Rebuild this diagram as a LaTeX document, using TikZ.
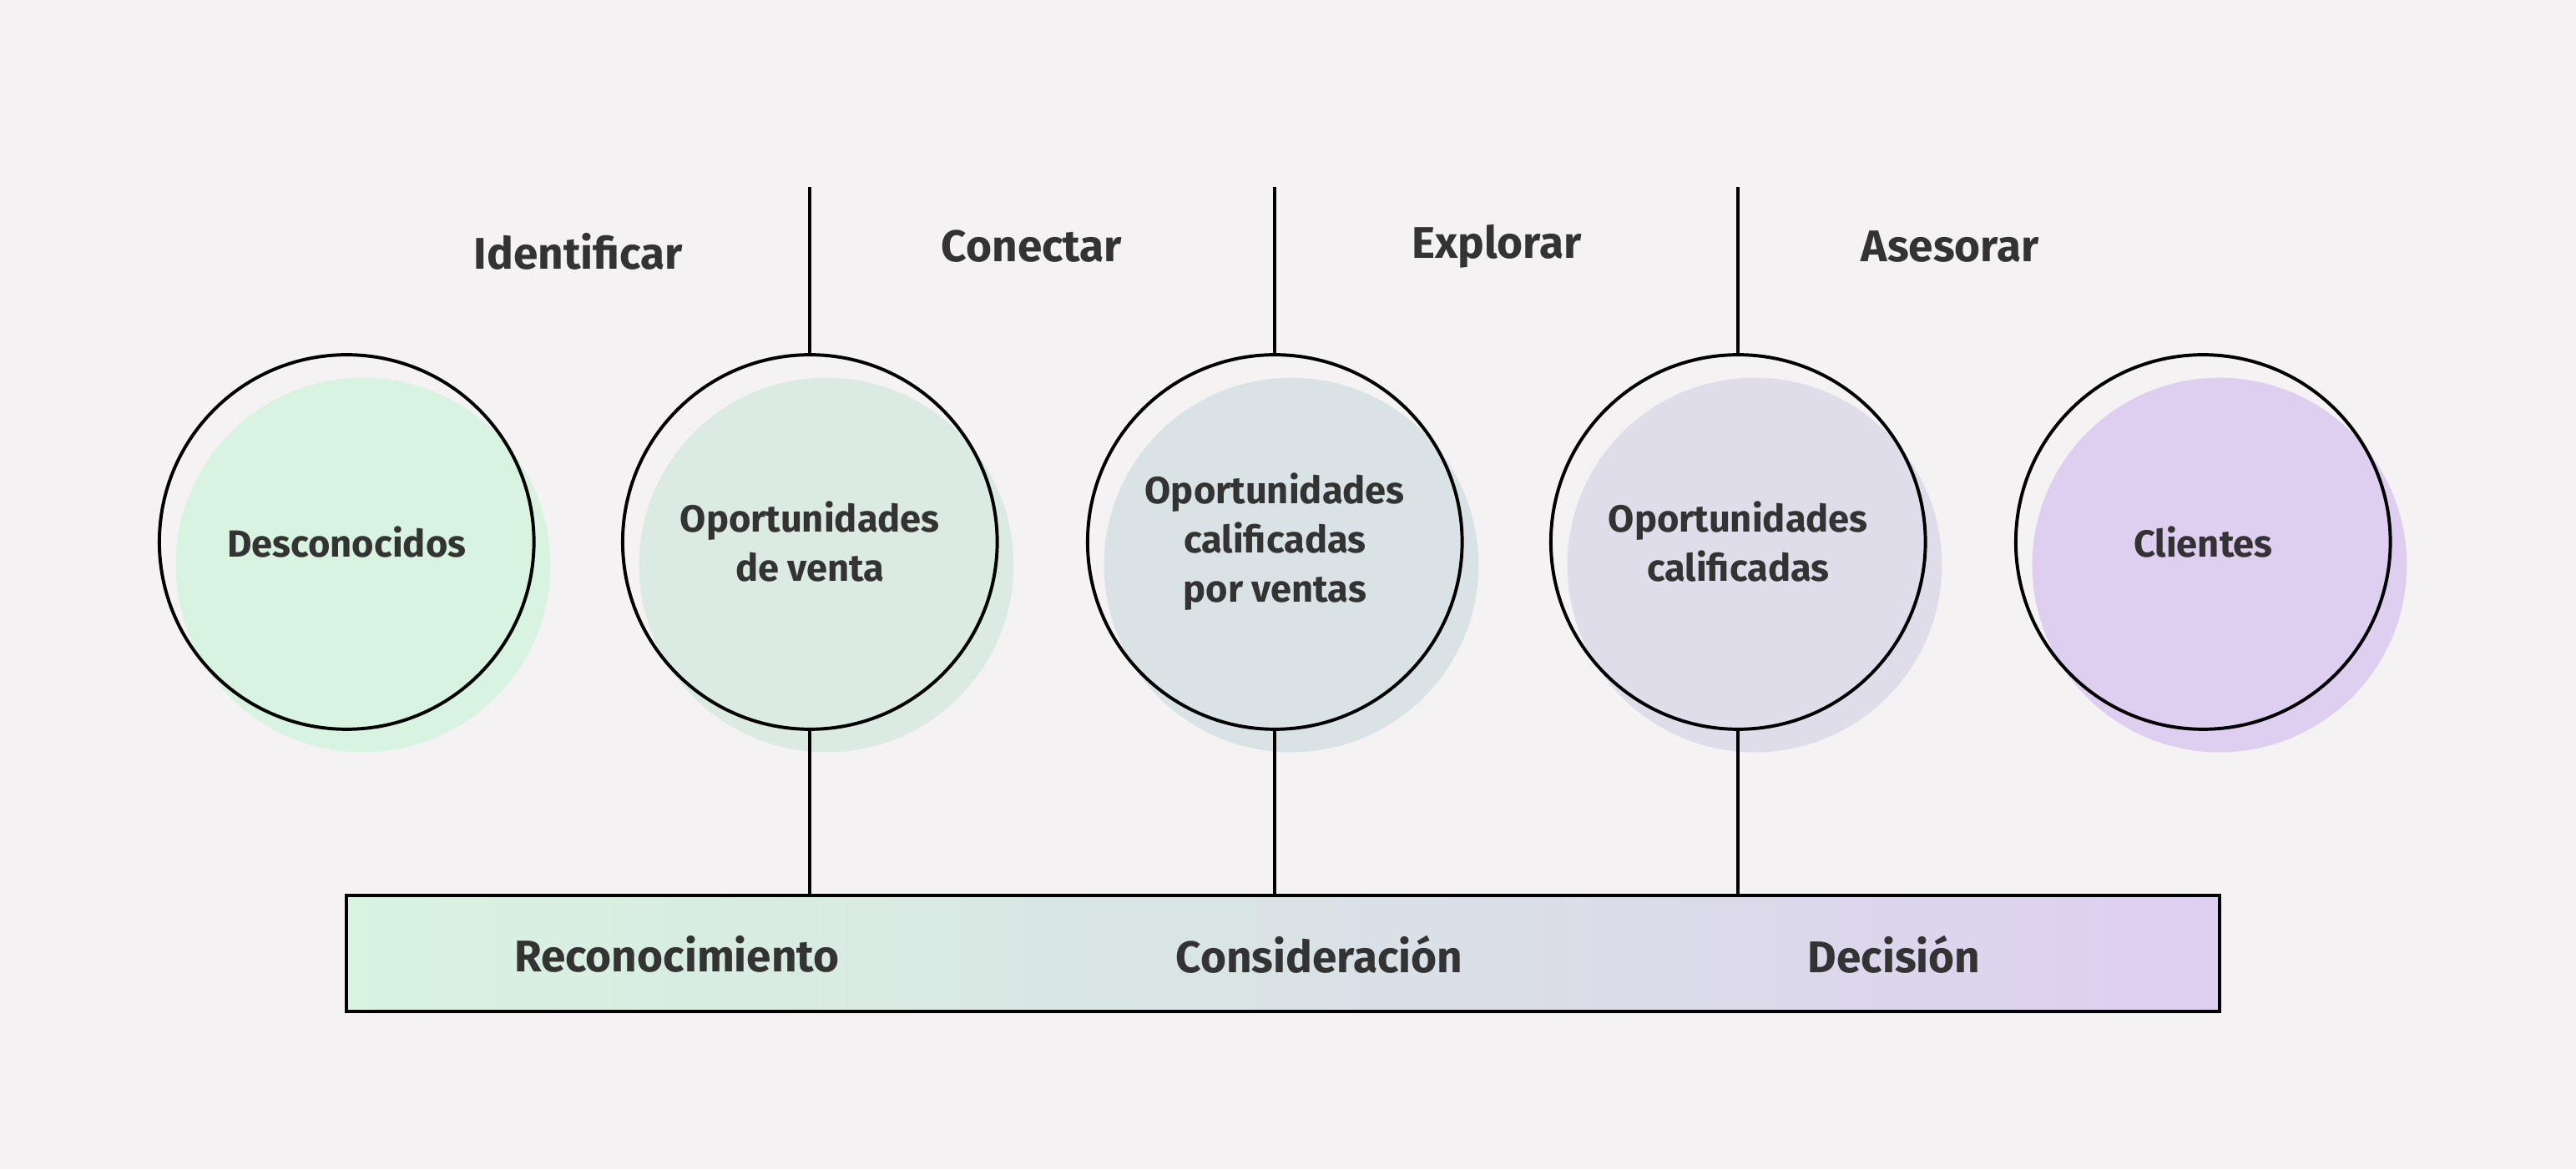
\documentclass[tikz,border=0pt]{standalone}
\usepackage{fontspec}
\setmainfont{Fira Sans}
\begin{document}
\begin{tikzpicture}[x=1pt,y=-1pt,
  ring/.style={circle,draw=black,line width=2pt,minimum size=228pt,inner sep=0pt,align=center,font=\fontsize{23}{30}\selectfont\bfseries,text=black!80},
  blob/.style={circle,minimum size=228pt,inner sep=0pt},
  top/.style={font=\fontsize{27}{32}\selectfont\bfseries,text=black!80},
  ln/.style={line width=2pt}]
\fill[fill={rgb,255:red,244;green,242;blue,243}] (0,0) rectangle (1568,712);
\definecolor{c1}{HTML}{D8F3E0}\definecolor{c2}{HTML}{DBEAE2}\definecolor{c3}{HTML}{D9E3E5}\definecolor{c4}{HTML}{DFDDE9}\definecolor{c5}{HTML}{DECFF0}
\foreach \x/\c in {211/c1,493/c2,776/c3,1058/c4,1341/c5}
  \node[blob,fill=\c] at (\x+10,344) {};
\node[ring] (a) at (211,330) {Desconocidos};
\node[ring] (b) at (493,330) {Oportunidades\\de venta};
\node[ring] (c) at (776,330) {Oportunidades\\calificadas\\por ventas};
\node[ring] (d) at (1058,330) {Oportunidades\\calificadas};
\node[ring] (e) at (1341,330) {Clientes};
\shade[left color=c1,right color=c5,middle color=c3,draw=black,line width=2pt] (211,545) rectangle (1351,616);
\coordinate (bar1) at (493,545);\coordinate (bar2) at (776,545);\coordinate (bar3) at (1058,545);
\coordinate (t1) at (493,114);\coordinate (t2) at (776,114);\coordinate (t3) at (1058,114);
\draw[ln] (t1)--(b.north) (t2)--(c.north) (t3)--(d.north);
\draw[ln] (b.south)--(bar1) (c.south)--(bar2) (d.south)--(bar3);
\node[top] (l1) at (352,153) {Identificar};
\node[top] (l2) at (628,150) {Conectar};
\node[top] (l3) at (911,150) {Explorar};
\node[top] (l4) at (1187,150) {Asesorar};
\node[top] (s1) at (412,581) {Reconocimiento};
\node[top] (s2) at (803,581) {Consideración};
\node[top] (s3) at (1153,581) {Decisión};
\end{tikzpicture}
\end{document}
